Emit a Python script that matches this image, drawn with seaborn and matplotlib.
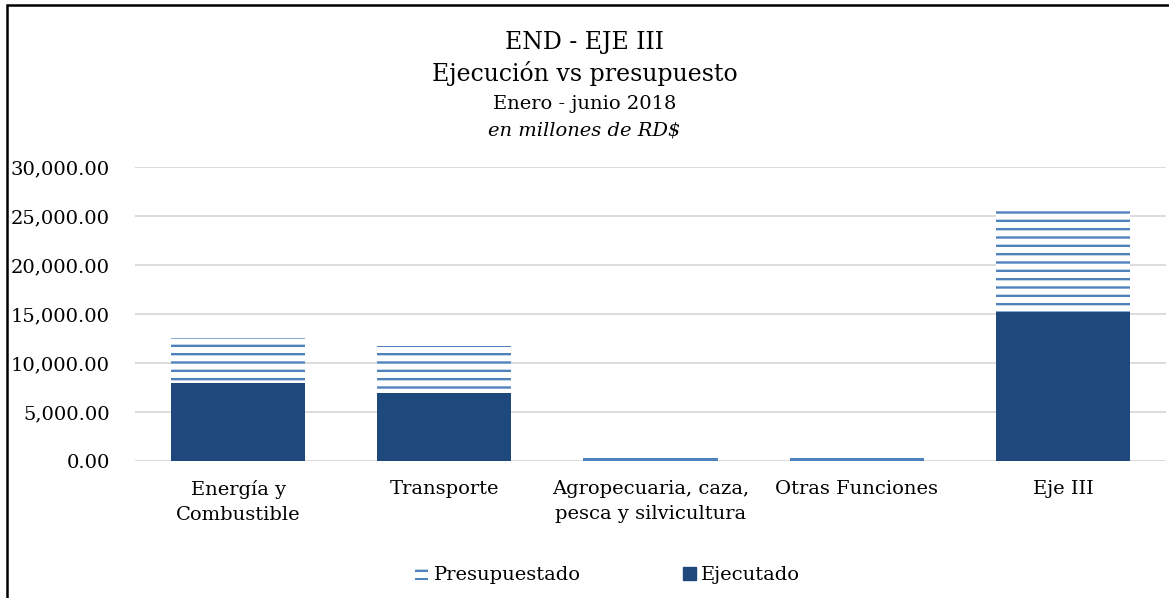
import matplotlib
matplotlib.use("Agg")
import matplotlib.pyplot as plt
import seaborn as sns
import pandas as pd
from matplotlib.patches import Patch, Rectangle
from matplotlib.ticker import FuncFormatter

categories = ["Energía y\nCombustible", "Transporte", "Agropecuaria, caza,\npesca y silvicultura",
              "Otras Funciones", "Eje III"]
presupuestado = [12550, 11750, 350, 350, 25600]
ejecutado = [8000, 6980, 10, 10, 15250]

sns.set_theme(style="white")
plt.rcParams['font.family'] = ['DejaVu Serif']
plt.rcParams['hatch.linewidth'] = 1.7
plt.rcParams['text.color'] = 'black'

dark = "#1F497D"
light = "#4F81BD"

df = pd.DataFrame({"cat": categories, "pres": presupuestado, "ejec": ejecutado})

fig = plt.figure(figsize=(11.69, 5.98), dpi=100)
ax = fig.add_axes([135/1169, 1 - 461/598, (1166-135)/1169, (461-167)/598])

sns.barplot(data=df, x="cat", y="pres", ax=ax, color="white", width=0.65,
            saturation=1, linewidth=0, edgecolor=light, hatch="--")
for p in ax.patches:
    p.set_edgecolor(light)
    p.set_linewidth(0)
    if p.get_height() < 800:
        # too short for the hatch spacing: renders as a single pattern line
        p.set_facecolor(light)
        p.set_hatch(None)
    else:
        p.set_facecolor("white")
        p.set_hatch("--")
sns.barplot(data=df, x="cat", y="ejec", ax=ax, color=dark, width=0.65,
            saturation=1, linewidth=0)

ax.set_ylim(0, 30000)
ax.set_yticks([0, 5000, 10000, 15000, 20000, 25000, 30000])
ax.yaxis.set_major_formatter(FuncFormatter(lambda v, _: f"{v:,.2f}"))
ax.grid(axis="y", color="#D9D9D9", linewidth=1.3)
ax.set_axisbelow(True)
for s in ax.spines.values():
    s.set_visible(False)
ax.set_xlabel("")
ax.set_ylabel("")
ax.tick_params(axis="y", labelsize=14, colors="#000000", pad=18, length=0)
ax.tick_params(axis="x", labelsize=14, colors="#000000", pad=14, length=0)
for t in ax.get_xticklabels():
    t.set_linespacing(1.5)
ax.set_xlim(-0.5, 4.5)

fig.text(0.5, 1 - 42/598, "END - EJE III", ha="center", va="center", fontsize=17)
fig.text(0.5, 1 - 74/598, "Ejecución vs presupuesto", ha="center", va="center", fontsize=17)
fig.text(0.5, 1 - 104/598, "Enero - junio 2018", ha="center", va="center", fontsize=14)
fig.text(0.5, 1 - 131/598, "en millones de RD$", ha="center", va="center", fontsize=14, style="italic")

handles = [Patch(facecolor="white", edgecolor=light, hatch="--", linewidth=0, label="Presupuestado"),
           Patch(facecolor=dark, edgecolor=dark, label="Ejecutado")]
fig.legend(handles=handles, loc="center", bbox_to_anchor=(0.52, 1 - 575/598), ncol=2,
           frameon=False, fontsize=14, handlelength=0.65, handleheight=0.65,
           handletextpad=0.3, columnspacing=5.25)

fig.patches.append(Rectangle((7/1169, -0.1), 1.2, 1 - 5/598 + 0.1, transform=fig.transFigure,
                             fill=False, edgecolor="black", linewidth=1.8))

fig.savefig("out.png", dpi=100)
